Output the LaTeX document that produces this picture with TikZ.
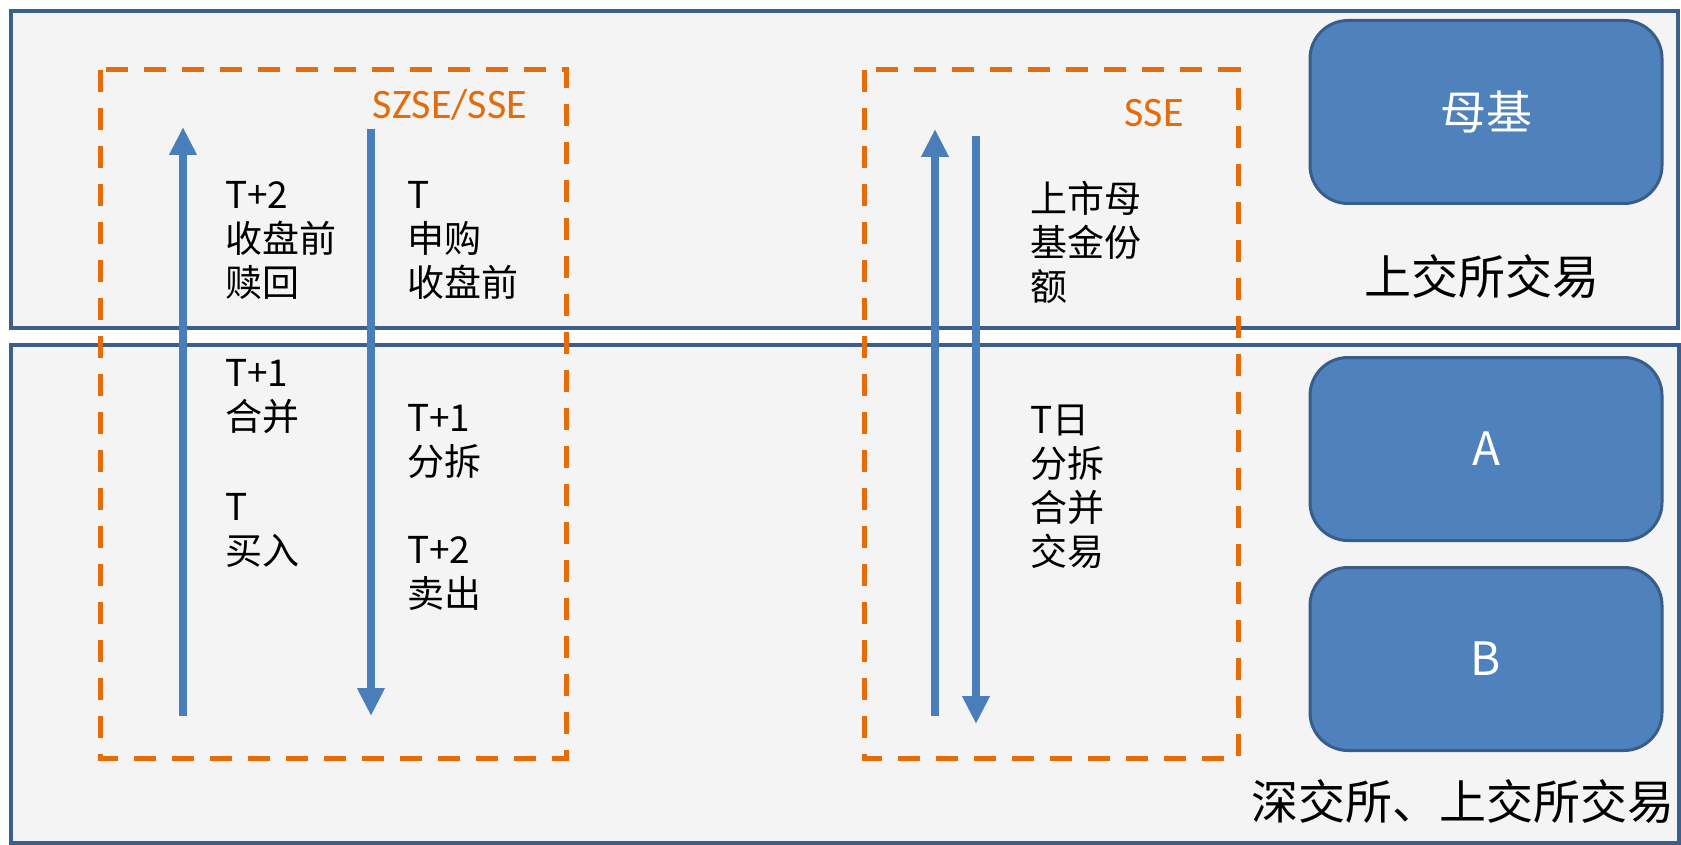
\documentclass[tikz,border=0pt]{standalone}
\usepackage{fontspec}
\setmainfont{Noto Sans CJK SC}
\newfontfamily\latinsans{Carlito}
\usetikzlibrary{arrows.meta}
\definecolor{panelblue}{HTML}{3B5E8C}
\definecolor{panelfill}{HTML}{F4F4F4}
\definecolor{arrowblue}{HTML}{4A7EBB}
\definecolor{zoneorange}{HTML}{E46C0A}
\definecolor{unitfill}{HTML}{4F81BD}
\definecolor{unitedge}{HTML}{385D8A}
\begin{document}
\begin{tikzpicture}[x=1pt,y=-1pt,
  panel/.style={draw=panelblue,line width=4.5pt,fill=panelfill},
  zone/.style={draw=zoneorange,line width=5pt,dash pattern=on 22pt off 16pt},
  zonelbl/.style={text=zoneorange,inner sep=0pt,font=\latinsans\fontsize{42}{46}\selectfont},
  flow/.style={draw=arrowblue,line width=8.5pt,-{Triangle[width=26pt,length=28pt]}},
  lbl/.style={anchor=north west,inner sep=0pt,align=left,font=\fontsize{37}{44}\selectfont},
  unit/.style={rounded corners=38pt,fill=unitfill,draw=unitedge,line width=3pt,
    minimum width=352pt,minimum height=183pt,text=white,inner sep=0pt,
    font=\fontsize{46}{50}\selectfont},
  caption/.style={inner sep=0pt,font=\fontsize{47}{50}\selectfont}]
\useasboundingbox (0,0) rectangle (1681,845);
\fill[white] (0,0) rectangle (1681,845);
% panels
\draw[panel] (11,11) rectangle (1678,328);
\draw[panel] (11,345) rectangle (1679,843);
% zones
\draw[zone] (100,70) rectangle (566,758);
\draw[zone] (864,70) rectangle (1238,758);
\node[zonelbl] (zl1) at (450,105) {SZSE/SSE};
\node[zonelbl] (zl2) at (1154,113) {SSE};
% arrows
\coordinate (a1s) at (183,716);
\coordinate (a1e) at (183,127);
\coordinate (a2s) at (371,129);
\coordinate (a2e) at (371,716);
\coordinate (a3s) at (935,716);
\coordinate (a3e) at (935,129);
\coordinate (a4s) at (976,136);
\coordinate (a4e) at (976,724);
\draw[flow] (a1s) -- (a1e);
\draw[flow] (a2s) -- (a2e);
\draw[flow] (a3s) -- (a3e);
\draw[flow] (a4s) -- (a4e);
% labels
\node[lbl] (l1) at (225,181) {T+2\\收盘前\\赎回};
\node[lbl] (l2) at (407,181) {T\\申购\\收盘前};
\node[lbl] (l3) at (225,359) {T+1\\合并};
\node[lbl] (l4) at (225,493) {T\\买入};
\node[lbl] (l5) at (407,404) {T+1\\分拆};
\node[lbl] (l6) at (407,536) {T+2\\卖出};
\node[lbl] (l7) at (1030,181) {上市母\\基金份\\额};
\node[lbl] (l8) at (1030,405) {T日\\分拆\\合并\\交易};
% units
\node[unit] (mj) at (1486,112) {母基};
\node[unit] (ua) at (1486,449) {A};
\node[unit] (ub) at (1486,659) {B};
\node[caption] (c1) at (1482,277) {上交所交易};
\node[caption] (c2) at (1463,802) {深交所、上交所交易};
\end{tikzpicture}
\end{document}
